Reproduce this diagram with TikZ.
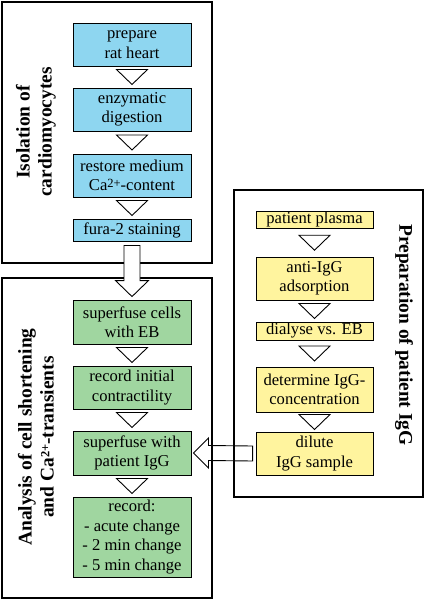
\documentclass[tikz,border=0pt]{standalone}
\usepackage{fontspec}
\setmainfont{Liberation Serif}
\usetikzlibrary{calc}
\definecolor{cellblue}{RGB}{142,214,240}
\definecolor{cellgreen}{RGB}{160,214,160}
\definecolor{iggyellow}{RGB}{255,244,158}
\newcommand{\ionchg}[1]{\raisebox{0.5ex}{\fontsize{12.5}{12.5}\selectfont #1}}
\tikzset{
  stepbox/.style={draw, line width=0.9pt, minimum width=118pt, inner sep=0pt, align=center,
    font=\fontsize{16.6}{19.4}\selectfont},
  panel/.style={draw, line width=1.2pt},
  heading/.style={align=center, font=\fontsize{19.4}{22}\selectfont\bfseries},
  tri/.style={draw, fill=white, line width=0.9pt,
    to path={($(\tikztostart.south)!0.5!(\tikztotarget.north)+(-15.5pt,7.5pt)$)
      -- ($(\tikztostart.south)!0.5!(\tikztotarget.north)+(15.5pt,7.5pt)$)
      -- ($(\tikztostart.south)!0.5!(\tikztotarget.north)+(0,-7.5pt)$) -- cycle}},
  blockarrow/.style={draw, fill=white, line width=0.9pt}
}
\begin{document}
\begin{tikzpicture}[x=1pt, y=1pt]
\useasboundingbox (0,0) rectangle (425,-600);

% left column
\node[stepbox, fill=cellblue, minimum height=43pt] (A) at (132,-44.5) {prepare\\rat heart};
\node[stepbox, fill=cellblue, minimum height=43pt] (B) at (132,-109.5) {enzymatic\\digestion};
\node[stepbox, fill=cellblue, minimum height=43pt] (C) at (132,-175.5) {restore medium\\Ca\ionchg{2+}-content};
\node[stepbox, fill=cellblue, minimum height=22pt] (D) at (132,-230) {fura-2 staining};

\node[stepbox, fill=cellgreen, minimum height=44pt] (E) at (132,-322) {superfuse cells\\with EB};
\node[stepbox, fill=cellgreen, minimum height=43pt] (F) at (132,-387.5) {record initial\\contractility};
\node[stepbox, fill=cellgreen, minimum height=44pt] (G) at (132,-453) {superfuse with\\patient IgG};
\node[stepbox, fill=cellgreen, minimum height=80pt] (H) at (132,-537) {record:\\- acute change\\- 2 min change\\- 5 min change};

% right column
\node[stepbox, fill=iggyellow, minimum width=117pt, minimum height=17pt] (R1) at (314.5,-220) {patient plasma};
\node[stepbox, fill=iggyellow, minimum width=117pt, minimum height=43pt] (R2) at (314.5,-278.5) {anti-IgG\\adsorption};
\node[stepbox, fill=iggyellow, minimum width=117pt, minimum height=18pt] (R3) at (314.5,-331) {dialyse vs. EB};
\node[stepbox, fill=iggyellow, minimum width=117pt, minimum height=45pt] (R4) at (314.5,-389.5) {determine IgG-\\concentration};
\node[stepbox, fill=iggyellow, minimum width=117pt, minimum height=43pt] (R5) at (314.5,-453.5) {dilute\\IgG sample};

% IgG goes over to the cells
\draw[blockarrow] ($(R5.west)+(-3,7.5)$) -- ($(G.east)+(17,7.5)$) -- ($(G.east)+(17,15)$)
  -- ($(G.east)+(2,0)$) -- ($(G.east)+(17,-15)$) -- ($(G.east)+(17,-7.5)$)
  -- ($(R5.west)+(-3,-7.5)$) -- cycle;

% panels
\draw[panel] (2,-2) rectangle (212,-263);
\draw[panel] (2,-278) rectangle (212,-598);
\draw[panel] (234,-190) rectangle (423,-497);

\node[heading, rotate=90] (T1) at (36,-132) {Isolation of\\cardiomyocytes};
\node[heading, rotate=90] (T2) at (36,-437) {Analysis of cell shortening\\and Ca\ionchg{2+}-transients};
\node[heading, rotate=-90] (T3) at (404,-335) {Preparation of patient IgG};

\draw[tri] (A) to (B);
\draw[tri] (B) to (C);
\draw[tri] (C) to (D);
\draw[tri] (E) to (F);
\draw[tri] (F) to (G);
\draw[tri] (G) to (H);
\draw[tri] (R1) to (R2);
\draw[tri] (R2) to (R3);
\draw[tri] (R3) to (R4);
\draw[tri] (R4) to (R5);

% cells go over to the analysis
\draw[blockarrow] ($(D.south)+(-8,-4)$) -- ($(E.north)+(-8,19)$) -- ($(E.north)+(-16.5,19)$)
  -- ($(E.north)+(0,3)$) -- ($(E.north)+(16.5,19)$) -- ($(E.north)+(8,19)$)
  -- ($(D.south)+(8,-4)$) -- cycle;
\end{tikzpicture}
\end{document}
